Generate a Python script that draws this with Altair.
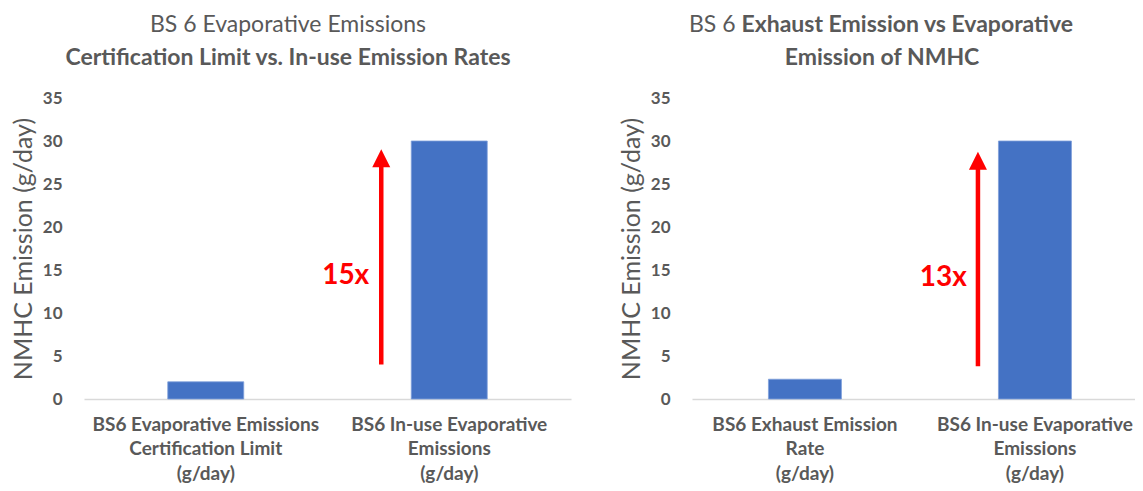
import altair as alt
import pandas as pd

# ---------------- data ----------------
left_categories = ["BS6 Evaporative Emissions|Certification Limit|(g/day)",
                   "BS6 In-use Evaporative|Emissions|(g/day)"]
left_values = [2.0, 30.0]

right_categories = ["BS6 Exhaust Emission|Rate|(g/day)",
                    "BS6 In-use Evaporative|Emissions|(g/day)"]
right_values = [2.3, 30.0]

left_title = ["BS 6 Evaporative Emissions", "Certification Limit vs. In-use Emission Rates"]
right_title_line1 = ["BS 6", "Exhaust Emission vs Evaporative"]
right_title_line2 = "Emission of NMHC"

y_title = "NMHC Emission (g/day)"
y_ticks = [0, 5, 10, 15, 20, 25, 30, 35]

# arrow annotations (data units)
left_arrow_from, left_arrow_to, left_label, left_label_y = 4.0, 28.0, "15x", 14.3
right_arrow_from, right_arrow_to, right_label, right_label_y = 3.8, 27.7, "13x", 14.1

# ---------------- style ----------------
FONT = "Lato"
GRAY = "#595959"
BLUE = "#4472C4"
RED = "#FF0000"
H = 301
ARROW_SHAPE = "M0,-1L1,1L-1,1Z"
TITLE_SIZE = 23


def panel(categories, values, arrow_from, arrow_to, label, label_y,
          width, scale_kw, arrow_dx, label_dx, title_layers):
    df = pd.DataFrame({"cat": categories, "val": values})
    x = alt.X("cat:N", sort=categories,
              scale=alt.Scale(**scale_kw),
              axis=alt.Axis(title=None, labelAngle=0, ticks=False, tickSize=0,
                            labelExpr="split(datum.label, '|')",
                            labelFont=FONT, labelFontSize=19, labelFontWeight="bold",
                            labelColor=GRAY, labelLineHeight=24.5, labelPadding=16,
                            labelLimit=400, labelBaseline="top",
                            domainColor="#D9D9D9", domainWidth=1.5))
    y = alt.Y("val:Q",
              scale=alt.Scale(domain=[0, 35], nice=False, zero=True),
              axis=alt.Axis(title=y_title, values=y_ticks, grid=False, domain=False,
                            ticks=False, tickSize=0, labelPadding=22,
                            labelFont=FONT, labelFontSize=17, labelFontWeight="bold",
                            labelColor=GRAY, titleFont=FONT, titleFontSize=25,
                            titleFontWeight="normal", titleColor=GRAY, titlePadding=6))
    bars = alt.Chart(df).mark_bar(color=BLUE, stroke="#7FA0DA", strokeWidth=0.8).encode(x=x, y=y)

    adf = pd.DataFrame({"cat": [categories[1]], "y0": [arrow_from],
                        "y1": [arrow_to - 0.8], "yh": [arrow_to],
                        "lab": [label], "ly": [label_y]})
    shaft = alt.Chart(adf).mark_rule(color=RED, strokeWidth=4.5, xOffset=arrow_dx).encode(
        x=alt.X("cat:N", sort=categories), y="y0:Q", y2="y1:Q")
    head = alt.Chart(adf).mark_point(shape=ARROW_SHAPE, size=324, filled=True, color=RED,
                                     opacity=1, xOffset=arrow_dx).encode(
        x=alt.X("cat:N", sort=categories), y="yh:Q")
    lab = alt.Chart(adf).mark_text(color=RED, font=FONT, fontSize=28, fontWeight="bold",
                                   align="right", baseline="middle", xOffset=label_dx).encode(
        x=alt.X("cat:N", sort=categories), y="ly:Q", text="lab:N")

    return alt.layer(bars, shaft, head, lab, *title_layers).properties(width=width, height=H)


def title_text(txt, xpix, ypix, weight, align="center"):
    return alt.Chart(pd.DataFrame({"t": [txt]})).mark_text(
        font=FONT, fontSize=TITLE_SIZE, fontWeight=weight, color=GRAY, align=align,
        baseline="middle").encode(x=alt.value(xpix), y=alt.value(ypix), text="t:N")


LW = 487
RW = 443
left_titles = [title_text(left_title[0], 204, -73, "normal"),
               title_text(left_title[1], 204, -40.5, "bold")]
right_titles = [title_text(right_title_line1[0], 43.5, -73, "normal", "right"),
                title_text(right_title_line1[1], 49.5, -73, "bold", "left"),
                title_text(right_title_line2, 190, -40.5, "bold")]

left = panel(left_categories, left_values, left_arrow_from, left_arrow_to, left_label,
             left_label_y, LW, dict(paddingInner=0.688, paddingOuter=0.344),
             -68, -80, left_titles)
right = panel(right_categories, right_values, right_arrow_from, right_arrow_to, right_label,
              right_label_y, RW, dict(paddingInner=0.6826, paddingOuter=0.3043, align=0.546),
              -57, -68, right_titles)

chart = alt.hconcat(left, right, spacing=48).resolve_scale(
    x="independent", y="independent").properties(
    padding={"left": 3, "top": 6, "right": 0, "bottom": 0},
    background="white"
).configure_view(strokeWidth=0)

chart.save("out.html", embed_options={"renderer": "svg", "actions": False})
